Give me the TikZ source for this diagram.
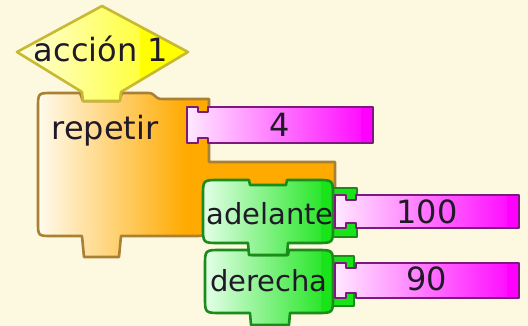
\documentclass[tikz,border=0pt]{standalone}
\usepackage{fontspec}
\setmainfont{DejaVu Sans}
\definecolor{bg}{RGB}{253,248,224}
\definecolor{ofull}{RGB}{255,170,0}
\definecolor{opale}{RGB}{255,251,238}
\definecolor{oline}{RGB}{170,128,52}
\definecolor{yfull}{RGB}{255,255,0}
\definecolor{ypale}{RGB}{255,255,225}
\definecolor{yline}{RGB}{200,185,50}
\definecolor{gfull}{RGB}{25,228,25}
\definecolor{gpale}{RGB}{228,255,232}
\definecolor{gline}{RGB}{25,140,25}
\definecolor{mfull}{RGB}{255,0,255}
\definecolor{mpale}{RGB}{255,232,255}
\definecolor{mline}{RGB}{125,25,125}
\definecolor{txtc}{RGB}{32,26,40}
\pgfdeclarehorizontalshading{oshade}{100bp}{color(0bp)=(opale); color(25bp)=(opale); color(50bp)=(ofull); color(100bp)=(ofull)}
\tikzset{
  txt/.style={font=\fontsize{32}{36}\selectfont, text=txtc, inner sep=0pt},
  txtsm/.style={font=\fontsize{29}{34}\selectfont, text=txtc, inner sep=0pt},
  oedge/.style={draw=oline, line width=2.6pt},
  yedge/.style={draw=yline, line width=2.6pt},
  gedge/.style={draw=gline, line width=2.6pt},
  medge/.style={draw=mline, line width=2.4pt},
}
% green command block: #1 left, #2 right, #3 top, #4 bottom
\newcommand\gblock[4]{%
  \path[gedge, fill=gfull, path picture={\shade[left color=gpale, right color=gfull] (#1,#3) rectangle (#2-12,#4+15);}]
    (#1,#3+16) .. controls (#1,#3) .. (#1+16,#3) -- (#1+46,#3) -- (#1+47,#3+5) -- (#1+83,#3+5) -- (#1+84,#3)
    -- (#2-16,#3) .. controls (#2,#3) .. (#2,#3+16) -- (#2,#4-16) .. controls (#2,#4) .. (#2-16,#4)
    -- (#1+85,#4) -- (#1+84,#4+12) -- (#1+46,#4+12) -- (#1+45,#4) -- (#1+16,#4) .. controls (#1,#4) .. (#1,#4-16) -- cycle;}
% magenta value block: #1 left, #2 top, #3 right, #4 bottom
\newcommand\mblock[4]{%
  \path[medge, fill=mfull, path picture={\shade[left color=mpale, right color=mfull] (#1,#2) rectangle (#3-12,#4);}]
    (#1,#2) -- (#1+11,#2) -- (#1+11,#2+5) -- (#1+21,#2+5) -- (#1+21,#2) -- (#3,#2) -- (#3,#4)
    -- (#1+21,#4) -- (#1+21,#4-5) -- (#1+11,#4-5) -- (#1+11,#4) -- (#1,#4) -- cycle;}
\begin{document}
\begin{tikzpicture}[x=1pt,y=-1pt,line join=round]
\useasboundingbox (0,0) rectangle (528,326);
\fill[bg] (0,0) rectangle (528,326);
% repetir (orange C block)
\path[oedge, fill=ofull, path picture={\shade[shading=oshade] (38,85) rectangle (278,265);}]
  (38,108) .. controls (38,93) .. (52,93) -- (80,93) -- (83,101) -- (119,101) -- (122,93) -- (148,93)
  .. controls (156,93) and (154,99) .. (162,99) -- (209,99) -- (209,162) -- (335,162) -- (335,195)
  -- (205,195) -- (205,226) .. controls (205,236) .. (195,236) -- (121,236) -- (119,257) -- (84,257)
  -- (82,236) -- (52,236) .. controls (38,236) .. (38,222) -- cycle;
% accion 1 (yellow hat)
\path[yedge, fill=yfull, path picture={\shade[left color=ypale, right color=yfull] (17,0) rectangle (140,110);}]
  (102,6) -- (188,52) -- (121,92) -- (120,101) -- (83,101) -- (82,92) -- (17,52) -- cycle;
% value 4
\mblock{187}{107}{373}{143}
% green sockets for values
\draw[gedge, fill=gfull] (328,188) rectangle (357,237);
\draw[gedge, fill=gfull] (328,256) rectangle (354,306);
% command blocks
\gblock{205}{333}{250}{313}
\gblock{203}{333}{180}{243}
% values 100 and 90
\mblock{335}{195}{519}{228}
\mblock{335}{263}{519}{298}
% texts
\node[txt, anchor=base] (accion) at (101,62) {acción 1};
\node[txt, anchor=base] (repetir) at (105,140) {repetir};
\node[txt, anchor=base] (n4) at (280,137) {4};
\node[txtsm, anchor=base] (adelante) at (270,225) {adelante};
\node[txt, anchor=base] (n100) at (427,223) {100};
\node[txtsm, anchor=base] (derecha) at (269,291) {derecha};
\node[txt, anchor=base] (n90) at (427,290) {90};
\end{tikzpicture}
\end{document}
